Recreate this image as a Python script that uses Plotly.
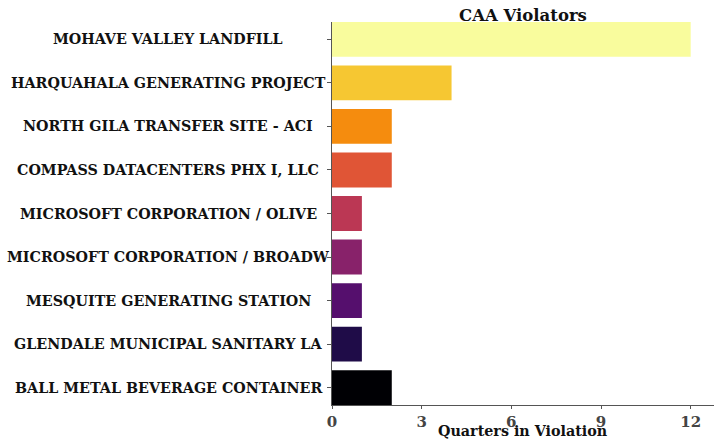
import plotly.graph_objects as go

facilities = [
    "MOHAVE VALLEY LANDFILL",
    "HARQUAHALA GENERATING PROJECT",
    "NORTH GILA TRANSFER SITE - ACI",
    "COMPASS DATACENTERS PHX I, LLC",
    "MICROSOFT CORPORATION / OLIVE",
    "MICROSOFT CORPORATION / BROADW",
    "MESQUITE GENERATING STATION",
    "GLENDALE MUNICIPAL SANITARY LA",
    "BALL METAL BEVERAGE CONTAINER",
]
quarters = [12, 4, 2, 2, 1, 1, 1, 1, 2]
colors = ["#f9fc9d", "#f6c732", "#f58c0e", "#e05536", "#bb3754",
          "#88226a", "#550f6d", "#1f0c48", "#000004"]
x_ticks = [0, 3, 6, 9, 12]

W, H = 715, 439
L, R, T, B = 332, 1, 22, 34
pw = W - L - R
ph = H - T - B

fig = go.Figure(go.Bar(
    x=quarters, y=facilities, orientation="h",
    marker=dict(color=colors, line=dict(width=0)),
    width=0.8,
))

serif = "DejaVu Serif"
for name in facilities:
    fig.add_annotation(
        x=(168 - L) / pw, xref="paper", y=name, yref="y",
        text="<b>%s</b>" % name, showarrow=False, xanchor="center",
        font=dict(family=serif, size=14.3, color="#111"),
    )

fig.add_annotation(
    x=0.5, xref="paper", y=-(431 - (H - B)) / ph, yref="paper",
    text="<b>Quarters in Violation</b>", showarrow=False,
    xanchor="center", yanchor="middle",
    font=dict(family=serif, size=14.3, color="#111"),
)

fig.update_layout(
    width=W, height=H,
    margin=dict(l=L, r=R, t=T, b=B, autoexpand=False),
    plot_bgcolor="white", paper_bgcolor="white",
    showlegend=False,
    title=dict(text="<b>CAA Violators</b>", x=(L + pw / 2) / W, xanchor="center",
               y=1 - 15 / H, yanchor="middle",
               font=dict(family=serif, size=16.5, color="#111")),
    xaxis=dict(range=[0, 12.78], tickvals=x_ticks, showgrid=False, zeroline=False,
               showline=True, linecolor="#555", linewidth=1.3,
               ticks="outside", ticklen=3, tickcolor="#555",
               automargin=False,
               tickfont=dict(family=serif, size=15, color="#444", weight="bold")),
    yaxis=dict(range=[8.4, -0.4], showgrid=False, zeroline=False,
               showline=True, linecolor="#555", linewidth=1.3,
               ticks="outside", ticklen=4, tickcolor="#555",
               automargin=False, showticklabels=False),
)

fig.write_html("out.html", config={"displayModeBar": False},
               post_script="document.body.style.margin='0';document.body.style.overflow='hidden';")
